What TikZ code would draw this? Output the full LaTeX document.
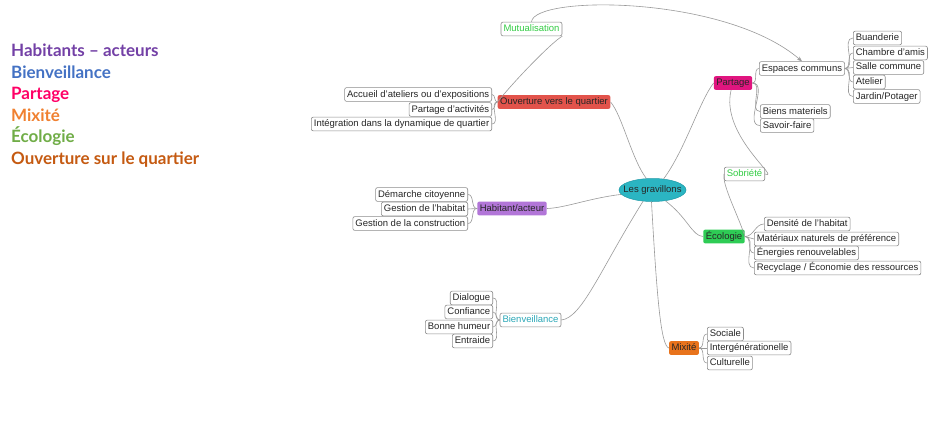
\documentclass[tikz,border=0pt]{standalone}
\usepackage{fontspec}
\setmainfont{Liberation Sans}
\newfontfamily\legfont{Lato}
\usetikzlibrary{arrows.meta,shapes.geometric}
\definecolor{cgray}{HTML}{9A9A9A}
\definecolor{bgray}{HTML}{8C8C8C}
\definecolor{cred}{HTML}{E2534B}
\definecolor{cmag}{HTML}{E0157F}
\definecolor{cgreen}{HTML}{2ECC55}
\definecolor{cpurp}{HTML}{B276D8}
\definecolor{corange}{HTML}{E8731C}
\definecolor{cteal}{HTML}{2BB5C2}
\definecolor{cteald}{HTML}{1E9AA8}
\definecolor{tgreen}{HTML}{33CC44}
\definecolor{tteal}{HTML}{2AA7B7}
\definecolor{lpurp}{HTML}{7340A6}
\definecolor{lblue}{HTML}{4472C4}
\definecolor{lpink}{HTML}{FF0066}
\definecolor{lorange}{HTML}{F08030}
\definecolor{lgreen}{HTML}{70AD47}
\definecolor{lbrown}{HTML}{C55A11}
\tikzset{
  mmtext/.style={font=\fontsize{9.5}{11}\selectfont, text height=7pt, text depth=2pt, inner ysep=2.4pt, inner xsep=2.5pt, rounded corners=2pt},
  leaf/.style={mmtext, draw=bgray, fill=white, line width=0.6pt, text=black!85},
  mainnode/.style={mmtext, text=black!85},
  conn/.style={draw=cgray, line width=0.6pt},
  legend/.style={anchor=base west, inner sep=0pt, font=\legfont\bfseries\fontsize{17}{20}\selectfont}
}
\begin{document}
\begin{tikzpicture}[x=1pt,y=-1pt]
\useasboundingbox[fill=white] (0,0) rectangle (939,444);
% legend
\node[legend, text=lpurp] (l1) at (11,56.5) {Habitants – acteurs};
\node[legend, text=lblue] (l2) at (11,78) {Bienveillance};
\node[legend, text=lpink] (l3) at (11,99.5) {Partage};
\node[legend, text=lorange] (l4) at (11,121) {Mixité};
\node[legend, text=lgreen] (l5) at (11,142.5) {Écologie};
\node[legend, text=lbrown] (l6) at (11,164) {Ouverture sur le quartier};

% central
\node[ellipse, fill=cteal, draw=cteald, line width=0.5pt, minimum width=67pt, minimum height=23pt, inner sep=0pt] (g) at (652.5,190) {};
\node[font=\fontsize{9.5}{11}\selectfont, text=black!85, inner sep=0pt] (gt) at (g.center) {Les gravillons};

% main nodes
\node[mainnode, fill=cred] (ouv) at (554,102) {Ouverture vers le quartier};
\node[leaf, text=tgreen] (mut) at (531.5,29) {Mutualisation};
\node[mainnode, fill=cmag] (part) at (733,83) {Partage};
\node[leaf, text=tgreen] (sob) at (744.5,174) {Sobriété};
\node[mainnode, fill=cgreen] (eco) at (724,236.5) {Écologie};
\node[mainnode, fill=cpurp] (hab) at (512,208.5) {Habitant/acteur};
\node[leaf, text=tteal] (bien) at (530.5,320) {Bienveillance};
\node[mainnode, fill=corange] (mix) at (684,348) {Mixité};

% left leaves
\node[leaf, anchor=east] (acc) at (492,94.5) {Accueil d'ateliers ou d'expositions};
\node[leaf, anchor=east] (pda) at (492,109.5) {Partage d'activités};
\node[leaf, anchor=east] (itg) at (492,124) {Intégration dans la dynamique de quartier};
\node[leaf, anchor=east] (dem) at (468,194.5) {Démarche citoyenne};
\node[leaf, anchor=east] (gdh) at (468,209) {Gestion de l'habitat};
\node[leaf, anchor=east] (gdc) at (468,223.5) {Gestion de la construction};
\node[leaf, anchor=east] (dia) at (493,298) {Dialogue};
\node[leaf, anchor=east] (con) at (493,312) {Confiance};
\node[leaf, anchor=east] (bon) at (493,327) {Bonne humeur};
\node[leaf, anchor=east] (ent) at (493,341) {Entraide};

% right leaves
\node[leaf, anchor=west] (ec) at (759,68.5) {Espaces communs};
\node[leaf, anchor=west] (bm) at (760,111.5) {Biens materiels};
\node[leaf, anchor=west] (sf) at (760,125.5) {Savoir-faire};
\node[leaf, anchor=west] (bua) at (853,38) {Buanderie};
\node[leaf, anchor=west] (cha) at (853,53) {Chambre d'amis};
\node[leaf, anchor=west] (sal) at (853,67.5) {Salle commune};
\node[leaf, anchor=west] (ate) at (853,82) {Atelier};
\node[leaf, anchor=west] (jar) at (853,96.5) {Jardin/Potager};
\node[leaf, anchor=west] (den) at (764,224) {Densité de l'habitat};
\node[leaf, anchor=west] (mat) at (754,239) {Matériaux naturels de préférence};
\node[leaf, anchor=west] (ene) at (754,253) {Énergies renouvelables};
\node[leaf, anchor=west] (rec) at (754,268) {Recyclage / Économie des ressources};
\node[leaf, anchor=west] (soc) at (707,334) {Sociale};
\node[leaf, anchor=west] (itgn) at (707,348) {Intergénérationelle};
\node[leaf, anchor=west] (cul) at (707,363) {Culturelle};

% connectors from centre
\draw[conn] (ouv.east) .. controls (622,115) and (632,160) .. (g.118);
\draw[conn] (g.45) .. controls (685,150) and (700,100) .. (part.west);
\draw[conn] (g.-40) .. controls (688,218) and (692,236) .. (eco.west);
\draw[conn] (g.-95) .. controls (657,300) and (661,346) .. (mix.west);
\draw[conn] (g.-130) .. controls (600,270) and (582,318) .. (bien.east);
\draw[conn] (g.188) .. controls (590,198) and (565,208) .. (hab.east);

% cross links
\draw[conn] (ouv.west) .. controls (515,80) and (552,42) .. (mut.south east);
\draw[conn, -{Stealth[length=5pt,width=4pt]}] (mut.north) .. controls (534,-5) and (725,-5) .. (ec.north);
\draw[conn] (part.-105) .. controls (720,135) and (782,180) .. (sob.east);
\draw[conn] (eco.east) .. controls (738,215) and (722,185) .. (sob.west);

% brackets
\foreach \c in {acc,pda,itg} \draw[conn] (ouv.west) to[out=180,in=0] (\c.east);
\foreach \c in {dem,gdh,gdc} \draw[conn] (hab.west) to[out=180,in=0] (\c.east);
\foreach \c in {dia,con,bon,ent} \draw[conn] (bien.west) to[out=180,in=0] (\c.east);
\foreach \c in {ec,bm,sf} \draw[conn] (part.east) to[out=0,in=180] (\c.west);
\foreach \c in {bua,cha,sal,ate,jar} \draw[conn] (ec.east) to[out=0,in=180] (\c.west);
\foreach \c in {den,mat,ene,rec} \draw[conn] (eco.east) to[out=0,in=180] (\c.west);
\foreach \c in {soc,itgn,cul} \draw[conn] (mix.east) to[out=0,in=180] (\c.west);
\end{tikzpicture}
\end{document}
